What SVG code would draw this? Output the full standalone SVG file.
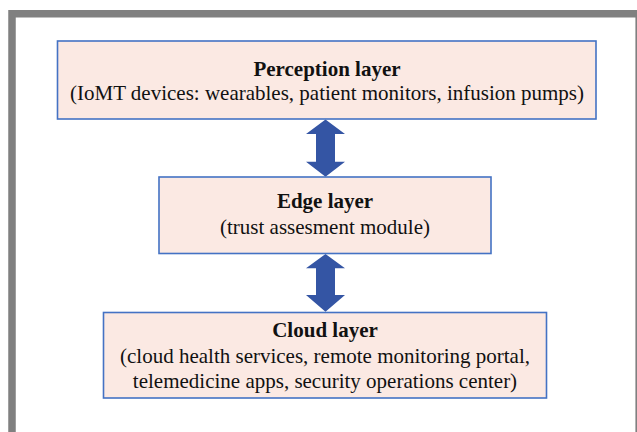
<svg xmlns="http://www.w3.org/2000/svg" width="637" height="432" viewBox="0 0 637 432">
  <style>
    .box { fill: #FBE9E3; stroke: #4472C4; stroke-width: 1.6; }
    .title { font-family: "Liberation Serif", "Times New Roman", serif; font-size: 21px; font-weight: bold; fill: #111; text-anchor: middle; }
    .body { font-family: "Liberation Serif", "Times New Roman", serif; font-size: 21px; fill: #111; text-anchor: middle; }
    .arrow { fill: #3455A4; }
    .frame { fill: none; stroke: #808080; }
  </style>
  <rect width="637" height="432" fill="#FFFFFF"/>
  <!-- outer frame -->
  <path class="frame" d="M12 432 V13.7 H640" stroke-width="7.5"/>
  <line class="frame" x1="636.2" y1="13" x2="636.2" y2="432" stroke-width="1.6"/>

  <g id="connectors">
    <!-- perception <-> edge -->
    <path class="arrow" d="M325.5 119.5 L345 134 L335 134 L335 161.7 L345 161.7 L325.5 176.7 L306 161.7 L316 161.7 L316 134 L306 134 Z"/>
    <!-- edge <-> cloud -->
    <path class="arrow" d="M325.5 254 L345 268.3 L335 268.3 L335 295 L345 295 L325.5 311.7 L306 295 L316 295 L316 268.3 L306 268.3 Z"/>
  </g>

  <g id="perception">
    <rect class="box" x="57.5" y="41" width="538.5" height="78"/>
    <text class="title" x="327" y="75.5">Perception layer</text>
    <text class="body" x="327" y="100">(IoMT devices: wearables, patient monitors, infusion pumps)</text>
  </g>

  <g id="edge">
    <rect class="box" x="159" y="177" width="332" height="76.5"/>
    <text class="title" x="325" y="208">Edge layer</text>
    <text class="body" x="325" y="233.5">(trust assesment module)</text>
  </g>

  <g id="cloud">
    <rect class="box" x="103.5" y="312.5" width="443" height="85.5"/>
    <text class="title" x="325" y="337">Cloud layer</text>
    <text class="body" x="325" y="362.5">(cloud health services, remote monitoring portal,</text>
    <text class="body" x="325" y="388">telemedicine apps, security operations center)</text>
  </g>
</svg>
